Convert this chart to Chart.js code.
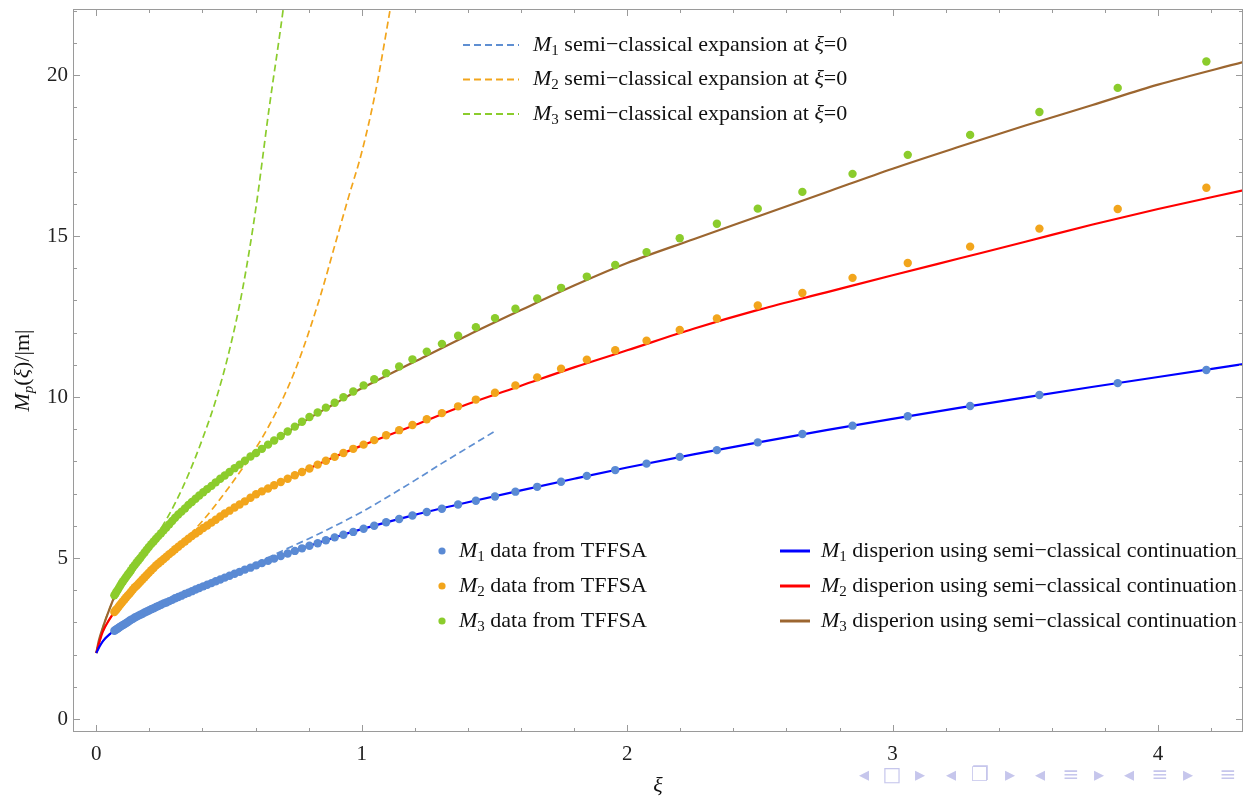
<!DOCTYPE html>
<html>
<head>
<meta charset="utf-8">
<script src="https://cdn.jsdelivr.net/npm/chart.js@4"></script>
<style>
  html, body { margin: 0; padding: 0; background: #fff; }
  canvas { display: block; }
</style>
</head>
<body>
<canvas id="dispChart" width="1245" height="796"></canvas>
<script>
// TFFSA data points (same xi for all three masses)
const xiData = [0.068, 0.072, 0.076, 0.081, 0.086, 0.091, 0.096, 0.101, 0.107, 0.113,
  0.119, 0.125, 0.131, 0.138, 0.145, 0.152, 0.159, 0.166, 0.174, 0.182,
  0.190, 0.198, 0.207, 0.216, 0.225, 0.234, 0.244, 0.254, 0.264, 0.275,
  0.286, 0.297, 0.309, 0.321, 0.334, 0.347, 0.360, 0.374, 0.388, 0.403,
  0.418, 0.434, 0.450, 0.467, 0.484, 0.502, 0.521, 0.540, 0.560, 0.581,
  0.602, 0.624, 0.647, 0.670, 0.695, 0.721, 0.748, 0.775, 0.803, 0.834,
  0.865, 0.898, 0.931, 0.968, 1.007, 1.047, 1.092, 1.141, 1.191, 1.245,
  1.302, 1.363, 1.430, 1.502, 1.579, 1.661, 1.751, 1.848, 1.955, 2.073,
  2.198, 2.338, 2.492, 2.660, 2.849, 3.057, 3.292, 3.553, 3.848, 4.182];
const m1Data = [2.74, 2.76, 2.79, 2.81, 2.84, 2.87, 2.90, 2.92, 2.95, 2.98,
  3.01, 3.05, 3.08, 3.11, 3.15, 3.18, 3.21, 3.24, 3.27, 3.31,
  3.34, 3.37, 3.41, 3.44, 3.48, 3.51, 3.55, 3.59, 3.62, 3.66,
  3.70, 3.75, 3.79, 3.83, 3.88, 3.92, 3.97, 4.02, 4.07, 4.12,
  4.17, 4.22, 4.28, 4.33, 4.39, 4.45, 4.51, 4.57, 4.64, 4.70,
  4.77, 4.84, 4.91, 4.98, 5.06, 5.14, 5.22, 5.30, 5.38, 5.46,
  5.55, 5.64, 5.72, 5.81, 5.91, 6.00, 6.11, 6.21, 6.32, 6.43,
  6.53, 6.66, 6.78, 6.91, 7.06, 7.21, 7.37, 7.55, 7.73, 7.93,
  8.14, 8.35, 8.59, 8.85, 9.11, 9.40, 9.72, 10.06, 10.43, 10.84];
const m2Data = [3.32, 3.37, 3.40, 3.45, 3.51, 3.56, 3.61, 3.66, 3.72, 3.78,
  3.84, 3.89, 3.95, 4.02, 4.09, 4.14, 4.20, 4.26, 4.33, 4.40,
  4.47, 4.54, 4.62, 4.69, 4.77, 4.83, 4.90, 4.97, 5.04, 5.12,
  5.19, 5.27, 5.35, 5.43, 5.51, 5.60, 5.68, 5.76, 5.84, 5.93,
  6.01, 6.10, 6.19, 6.29, 6.38, 6.47, 6.57, 6.66, 6.76, 6.87,
  6.98, 7.07, 7.16, 7.26, 7.36, 7.46, 7.57, 7.67, 7.78, 7.90,
  8.02, 8.14, 8.26, 8.39, 8.52, 8.66, 8.81, 8.97, 9.13, 9.31,
  9.50, 9.71, 9.92, 10.13, 10.36, 10.61, 10.88, 11.16, 11.45, 11.75,
  12.08, 12.44, 12.84, 13.23, 13.70, 14.16, 14.67, 15.23, 15.84, 16.50];
const m3Data = [3.84, 3.89, 3.95, 4.01, 4.08, 4.15, 4.22, 4.28, 4.35, 4.42,
  4.49, 4.55, 4.62, 4.71, 4.78, 4.86, 4.93, 5.00, 5.09, 5.17,
  5.26, 5.34, 5.43, 5.51, 5.60, 5.68, 5.77, 5.86, 5.95, 6.05,
  6.15, 6.25, 6.35, 6.44, 6.54, 6.65, 6.74, 6.84, 6.94, 7.04,
  7.14, 7.24, 7.35, 7.46, 7.56, 7.67, 7.79, 7.90, 8.02, 8.15,
  8.26, 8.39, 8.52, 8.65, 8.79, 8.93, 9.08, 9.23, 9.38, 9.52,
  9.67, 9.82, 9.99, 10.17, 10.36, 10.55, 10.74, 10.95, 11.17, 11.41,
  11.65, 11.90, 12.17, 12.45, 12.74, 13.06, 13.39, 13.74, 14.10, 14.50,
  14.93, 15.38, 15.85, 16.37, 16.93, 17.52, 18.14, 18.85, 19.60, 20.42];

// dispersion from semi-classical continuation
const xiCurve = [0, 0.01, 0.025, 0.05, 0.075, 0.1, 0.15, 0.2, 0.3, 0.4,
  0.5, 0.6, 0.7, 0.8, 0.9, 1.0, 1.2, 1.4, 1.6, 1.8,
  2.0, 2.25, 2.5, 2.75, 3.0, 3.25, 3.5, 3.75, 4.0, 4.32];
const m1Curve = [2.05, 2.22, 2.42, 2.63, 2.78, 2.92, 3.17, 3.38, 3.76, 4.11,
  4.445, 4.765, 5.075, 5.37, 5.645, 5.895, 6.34, 6.73, 7.10, 7.46,
  7.81, 8.22, 8.60, 8.97, 9.32, 9.66, 9.99, 10.31, 10.62, 11.02];
const m2Curve = [2.05, 2.35, 2.72, 3.10, 3.40, 3.65, 4.13, 4.56, 5.29, 5.91,
  6.46, 6.97, 7.38, 7.77, 8.15, 8.49, 9.13, 9.78, 10.35, 10.92,
  11.45, 12.12, 12.72, 13.25, 13.78, 14.30, 14.82, 15.35, 15.84, 16.42];
const m3Curve = [2.05, 2.45, 2.85, 3.42, 3.93, 4.27, 4.83, 5.36, 6.28, 7.02,
  7.66, 8.25, 8.80, 9.33, 9.80, 10.27, 11.10, 11.92, 12.70, 13.46,
  14.16, 14.90, 15.63, 16.36, 17.09, 17.77, 18.43, 19.06, 19.70, 20.40];

// semi-classical expansion at xi = 0
const m1ExpXi = [0, 0.025, 0.05, 0.1, 0.2, 0.3, 0.4, 0.5, 0.6, 0.7, 0.8, 0.9, 1.0, 1.1, 1.2, 1.3, 1.4, 1.5];
const m1Exp = [2.05, 2.42, 2.63, 2.92, 3.38, 3.77, 4.13, 4.48, 4.83, 5.22, 5.60, 6.00, 6.43, 6.91, 7.41, 7.93, 8.43, 8.93];
const m2ExpXi = [0, 0.025, 0.05, 0.1, 0.2, 0.3, 0.4, 0.5, 0.6, 0.65, 0.7, 0.75, 0.8, 0.85, 0.9, 0.95, 1.0, 1.05, 1.1, 1.15];
const m2Exp = [2.05, 2.72, 3.10, 3.65, 4.56, 5.30, 6.15, 7.20, 8.40, 9.10, 9.90, 10.85, 12.0, 13.3, 14.75, 16.2, 17.6, 19.4, 21.7, 24.2];
const m3ExpXi = [0, 0.025, 0.05, 0.1, 0.15, 0.2, 0.241, 0.3, 0.35, 0.4, 0.45, 0.5, 0.55, 0.6, 0.65, 0.705, 0.74];
const m3Exp = [2.05, 2.85, 3.42, 4.27, 4.83, 5.38, 5.88, 6.75, 7.65, 8.70, 9.90, 11.40, 13.30, 15.80, 18.90, 22.1, 24.5];

const xTicks = [0, 1, 2, 3, 4];
const yTicks = [0, 5, 10, 15, 20];

const dataColors = ['#5a8ad4', '#f2a51c', '#8bcc2c'];
const dashColors = ['#5f8fd2', '#f2a51c', '#8bcc2c'];
const curveColors = ['#0000ff', '#ff0000', '#9c6630'];

const SERIF = '"Liberation Serif", "Times New Roman", serif';

function pts(xs, ys) {
  return xs.map((x, i) => ({ x: x, y: ys[i] }));
}

function pointSet(ys, i) {
  return {
    data: pts(xiData, ys), showLine: false, order: 0,
    pointRadius: 4.2, pointHoverRadius: 4.2, pointBorderWidth: 0,
    pointBackgroundColor: dataColors[i], borderColor: dataColors[i]
  };
}
function curveSet(xs, ys, color, dashed) {
  return {
    data: pts(xs, ys), showLine: true, order: dashed ? 2 : 1,
    borderColor: color, borderWidth: dashed ? 1.7 : 2.2,
    borderDash: dashed ? [7, 4] : [], pointRadius: 0, tension: 0.3,
    cubicInterpolationMode: 'monotone', fill: false
  };
}

// mixed italic / subscript text drawn left to right
function rich(ctx, parts, x, y, size) {
  parts.forEach(p => {
    const s = p.sub ? Math.round(size * 0.68) : size;
    ctx.font = (p.it ? 'italic ' : '') + s + 'px ' + SERIF;
    ctx.fillText(p.t, x, y + (p.sub ? size * 0.26 : 0));
    x += ctx.measureText(p.t).width;
  });
  return x;
}
function richWidth(ctx, parts, size) {
  let w = 0;
  parts.forEach(p => {
    const s = p.sub ? Math.round(size * 0.68) : size;
    ctx.font = (p.it ? 'italic ' : '') + s + 'px ' + SERIF;
    w += ctx.measureText(p.t).width;
  });
  return w;
}
function mParts(n, tail) {
  return [{ t: 'M', it: true }, { t: String(n), sub: true }].concat(tail);
}

const framePlugin = {
  id: 'frame',
  afterDraw(chart) {
    const ctx = chart.ctx;
    const a = chart.chartArea;
    const xs = chart.scales.x, ys = chart.scales.y;
    ctx.save();
    // frame and inward ticks
    ctx.strokeStyle = '#9a9a9a';
    ctx.lineWidth = 1;
    ctx.strokeRect(a.left + 0.5, a.top + 0.5, a.right - a.left - 1, a.bottom - a.top - 1);
    ctx.beginPath();
    for (let k = 0; k <= 21; k++) {
      const v = k * 0.2;
      const px = Math.round(xs.getPixelForValue(v)) + 0.5;
      const len = k % 5 === 0 ? 7 : 4;
      ctx.moveTo(px, a.bottom); ctx.lineTo(px, a.bottom - len);
      ctx.moveTo(px, a.top); ctx.lineTo(px, a.top + len);
    }
    for (let v = 0; v <= 22; v++) {
      const py = Math.round(ys.getPixelForValue(v)) + 0.5;
      const len = v % 5 === 0 ? 7 : 4;
      ctx.moveTo(a.left, py); ctx.lineTo(a.left + len, py);
      ctx.moveTo(a.right, py); ctx.lineTo(a.right - len, py);
    }
    ctx.stroke();

    ctx.fillStyle = '#111';
    ctx.textBaseline = 'middle';
    ctx.textAlign = 'left';

    // top legend: dashed expansions
    const topRows = [45, 79.5, 114];
    for (let i = 0; i < 3; i++) {
      const y = topRows[i];
      ctx.strokeStyle = dashColors[i];
      ctx.lineWidth = 2;
      ctx.setLineDash([7, 4]);
      ctx.beginPath(); ctx.moveTo(463, y); ctx.lineTo(519, y); ctx.stroke();
      ctx.setLineDash([]);
      ctx.fillStyle = '#111';
      rich(ctx, mParts(i + 1, [{ t: ' semi\u2212classical expansion at ' }, { t: '\u03be', it: true }, { t: '=0' }]), 533, y, 22);
    }

    // bottom legends
    const botRows = [551, 586, 621];
    for (let i = 0; i < 3; i++) {
      const y = botRows[i];
      ctx.fillStyle = dataColors[i];
      ctx.beginPath(); ctx.arc(442, y, 3.6, 0, Math.PI * 2); ctx.fill();
      ctx.fillStyle = '#111';
      rich(ctx, mParts(i + 1, [{ t: ' data from TFFSA' }]), 459, y, 22);

      ctx.strokeStyle = curveColors[i];
      ctx.lineWidth = 3;
      ctx.beginPath(); ctx.moveTo(780, y); ctx.lineTo(810, y); ctx.stroke();
      rich(ctx, mParts(i + 1, [{ t: ' disperion using semi\u2212classical continuation' }]), 821, y, 22);
    }

    // axis titles
    ctx.textAlign = 'center';
    ctx.font = 'italic 22px ' + SERIF;
    ctx.fillText('\u03be', (a.left + a.right) / 2, 786);

    ctx.save();
    ctx.translate(23, (a.top + a.bottom) / 2);
    ctx.rotate(-Math.PI / 2);
    ctx.textAlign = 'left';
    const yParts = [{ t: 'M', it: true }, { t: 'p', it: true, sub: true }, { t: '(' }, { t: '\u03be', it: true }, { t: ')/|m|' }];
    const w = richWidth(ctx, yParts, 22);
    rich(ctx, yParts, -w / 2, 0, 22);
    ctx.restore();

    // beamer navigation symbols
    ctx.fillStyle = '#c6c6ec';
    ctx.font = '20px "DejaVu Sans"';
    ctx.textAlign = 'center';
    const nav = [['\u25c2', 864], ['\u25a1', 892], ['\u25b8', 920], ['\u25c2', 951], ['\u2750', 980], ['\u25b8', 1010],
      ['\u25c2', 1040], ['\u2261', 1071], ['\u25b8', 1099], ['\u25c2', 1129], ['\u2261', 1160], ['\u25b8', 1188], ['\u2261', 1228]];
    nav.forEach(n => ctx.fillText(n[0], n[1], 776));
    ctx.restore();
  }
};

new Chart(document.getElementById('dispChart'), {
  type: 'scatter',
  data: {
    datasets: [
      pointSet(m1Data, 0), pointSet(m2Data, 1), pointSet(m3Data, 2),
      curveSet(xiCurve, m1Curve, curveColors[0], false),
      curveSet(xiCurve, m2Curve, curveColors[1], false),
      curveSet(xiCurve, m3Curve, curveColors[2], false),
      curveSet(m1ExpXi, m1Exp, dashColors[0], true),
      curveSet(m2ExpXi, m2Exp, dashColors[1], true),
      curveSet(m3ExpXi, m3Exp, dashColors[2], true)
    ]
  },
  options: {
    responsive: false,
    animation: false,
    devicePixelRatio: 1,
    layout: { autoPadding: false, padding: { left: 0, right: 2, top: 9, bottom: 0 } },
    plugins: { legend: { display: false }, tooltip: { enabled: false } },
    scales: {
      x: {
        type: 'linear', min: -0.0878, max: 4.32,
        grid: { display: false, drawTicks: false },
        border: { display: false },
        afterBuildTicks: s => { s.ticks = xTicks.map(v => ({ value: v })); },
        afterFit: s => { s.height = 64; s.paddingLeft = 0; s.paddingRight = 0; },
        ticks: { padding: 10, color: '#222', font: { family: SERIF, size: 21 }, maxRotation: 0 }
      },
      y: {
        type: 'linear', min: -0.404, max: 22.05,
        grid: { display: false, drawTicks: false },
        border: { display: false },
        afterBuildTicks: s => { s.ticks = yTicks.map(v => ({ value: v })); },
        afterFit: s => { s.width = 73; s.paddingTop = 0; s.paddingBottom = 0; },
        ticks: { padding: 5, color: '#222', font: { family: SERIF, size: 21 } }
      }
    }
  },
  plugins: [framePlugin]
});
</script>
</body>
</html>
